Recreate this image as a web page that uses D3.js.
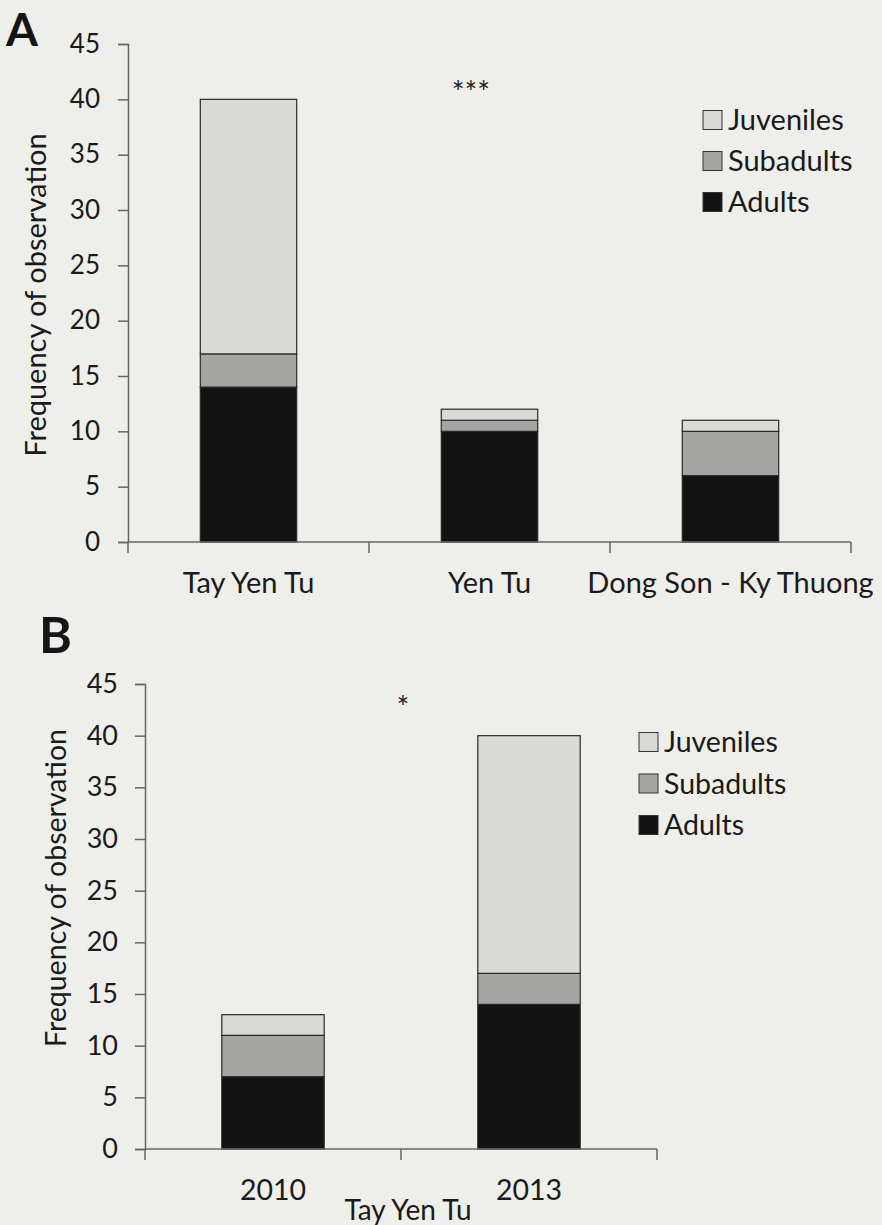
<!DOCTYPE html>
<html>
<head>
<meta charset="utf-8">
<script src="https://cdn.jsdelivr.net/npm/d3@7"></script>
<style>
  html, body { margin: 0; padding: 0; background: #eeeeea; }
  svg { display: block; font-family: Lato, "Open Sans", sans-serif; }
</style>
</head>
<body>
<div id="chart"></div>
<script>
// Panel A: sites
const categoriesA = ["Tay Yen Tu", "Yen Tu", "Dong Son - Ky Thuong"];
const adultsA = [14, 10, 6];
const subadultsA = [3, 1, 4];
const juvenilesA = [23, 1, 1];

// Panel B: Tay Yen Tu by year
const categoriesB = ["2010", "2013"];
const adultsB = [7, 14];
const subadultsB = [4, 3];
const juvenilesB = [2, 23];

const yTicks = [0, 5, 10, 15, 20, 25, 30, 35, 40, 45];
const seriesNames = ["Adults", "Subadults", "Juveniles"];
const colors = { Adults: "#121212", Subadults: "#a5a5a3", Juveniles: "#d9d9d6" };

const svg = d3.select("#chart").append("svg")
  .attr("width", 882)
  .attr("height", 1225);

function drawPanel(cfg) {
  const rows = cfg.categories.map((c, i) => ({
    cat: c, Adults: cfg.adults[i], Subadults: cfg.subadults[i], Juveniles: cfg.juveniles[i]
  }));
  const stacked = d3.stack().keys(seriesNames)(rows);

  const x = d3.scaleBand().domain(cfg.categories).range([cfg.left, cfg.right]).padding(0);
  const y = d3.scaleLinear().domain([0, 45]).range([cfg.bottom, cfg.top]);
  const barW = x.bandwidth() * 0.4;

  const g = svg.append("g");

  // panel letter
  g.append("text")
    .attr("x", cfg.letterX).attr("y", cfg.letterY)
    .style("font-size", cfg.letterSize + "px")
    .style("font-weight", "bold")
    .style("fill", "#151515")
    .text(cfg.letter);

  // y axis
  const yAxis = g.append("g")
    .attr("transform", `translate(${cfg.left},0)`)
    .call(d3.axisLeft(y).tickValues(yTicks).tickSize(10).tickPadding(cfg.tickPad));
  yAxis.select(".domain").attr("stroke", "#666").attr("stroke-width", 1.5);
  yAxis.selectAll(".tick line").attr("stroke", "#666").attr("stroke-width", 1.5);
  yAxis.selectAll("text").style("font-size", cfg.tickSize + "px").style("fill", "#1a1a1a")
    .style("font-family", "Lato, sans-serif");

  // y label
  g.append("text")
    .attr("transform", `translate(${cfg.yLabelX},${cfg.yLabelY}) rotate(-90)`)
    .attr("text-anchor", "middle")
    .style("font-size", cfg.fontSize + "px")
    .style("fill", "#1a1a1a")
    .text("Frequency of observation");

  // bars
  stacked.forEach(layer => {
    g.selectAll(null)
      .data(layer)
      .enter()
      .append("rect")
      .attr("x", d => x(d.data.cat) + x.bandwidth() / 2 - barW / 2)
      .attr("y", d => y(d[1]))
      .attr("width", barW)
      .attr("height", d => y(d[0]) - y(d[1]))
      .attr("fill", colors[layer.key])
      .attr("stroke", "#2a2a2a")
      .attr("stroke-width", 1.2);
  });

  // x axis line and boundary ticks
  g.append("line")
    .attr("x1", cfg.left).attr("x2", cfg.right)
    .attr("y1", cfg.bottom).attr("y2", cfg.bottom)
    .attr("stroke", "#666").attr("stroke-width", 1.5);
  const bounds = cfg.categories.map(c => x(c)).concat([cfg.right]);
  g.selectAll(null)
    .data(bounds)
    .enter()
    .append("line")
    .attr("x1", d => d).attr("x2", d => d)
    .attr("y1", cfg.bottom).attr("y2", cfg.bottom + 11)
    .attr("stroke", "#666").attr("stroke-width", 1.5);

  // category labels
  g.selectAll(null)
    .data(cfg.categories)
    .enter()
    .append("text")
    .attr("x", d => x(d) + x.bandwidth() / 2)
    .attr("y", cfg.bottom + cfg.labelDy)
    .attr("text-anchor", "middle")
    .style("font-size", cfg.fontSize + "px")
    .style("fill", "#1a1a1a")
    .text(d => d);

  // significance
  g.append("text")
    .attr("x", cfg.starX).attr("y", cfg.starY)
    .attr("text-anchor", "middle")
    .style("font-size", "30px")
    .style("fill", "#222")
    .text(cfg.stars);

  // legend
  const legendOrder = ["Juveniles", "Subadults", "Adults"];
  const lg = g.append("g").attr("transform", `translate(${cfg.legendX},${cfg.legendY})`);
  legendOrder.forEach((k, i) => {
    lg.append("rect")
      .attr("x", 0).attr("y", i * cfg.legendStep - 9.5)
      .attr("width", 19).attr("height", 19)
      .attr("fill", colors[k]).attr("stroke", "#333").attr("stroke-width", 1);
    lg.append("text")
      .attr("x", 25).attr("y", i * cfg.legendStep + 10)
      .style("font-size", cfg.fontSize + "px")
      .style("fill", "#1a1a1a")
      .text(k);
  });

  return x;
}

drawPanel({
  letter: "A", letterX: 6, letterY: 46, letterSize: 46,
  categories: categoriesA, adults: adultsA, subadults: subadultsA, juveniles: juvenilesA,
  left: 128, right: 851, top: 44, bottom: 542,
  fontSize: 29, tickSize: 26, tickPad: 18, yLabelX: 46, yLabelY: 295, labelDy: 51,
  stars: "***", starX: 471, starY: 103,
  legendX: 703, legendY: 120, legendStep: 41
});

const xB = drawPanel({
  letter: "B", letterX: 39, letterY: 653, letterSize: 50,
  categories: categoriesB, adults: adultsB, subadults: subadultsB, juveniles: juvenilesB,
  left: 145, right: 657, top: 684, bottom: 1149,
  fontSize: 28.5, tickSize: 27, tickPad: 17, yLabelX: 66, yLabelY: 888, labelDy: 51,
  stars: "*", starX: 403, starY: 718,
  legendX: 639, legendY: 742, legendStep: 41.5
});

// site name under panel B
svg.append("text")
  .attr("x", xB(categoriesB[1]) + 7)
  .attr("y", 1220)
  .attr("text-anchor", "middle")
  .style("font-size", "28px")
  .style("fill", "#1a1a1a")
  .text("Tay Yen Tu");
</script>
</body>
</html>
